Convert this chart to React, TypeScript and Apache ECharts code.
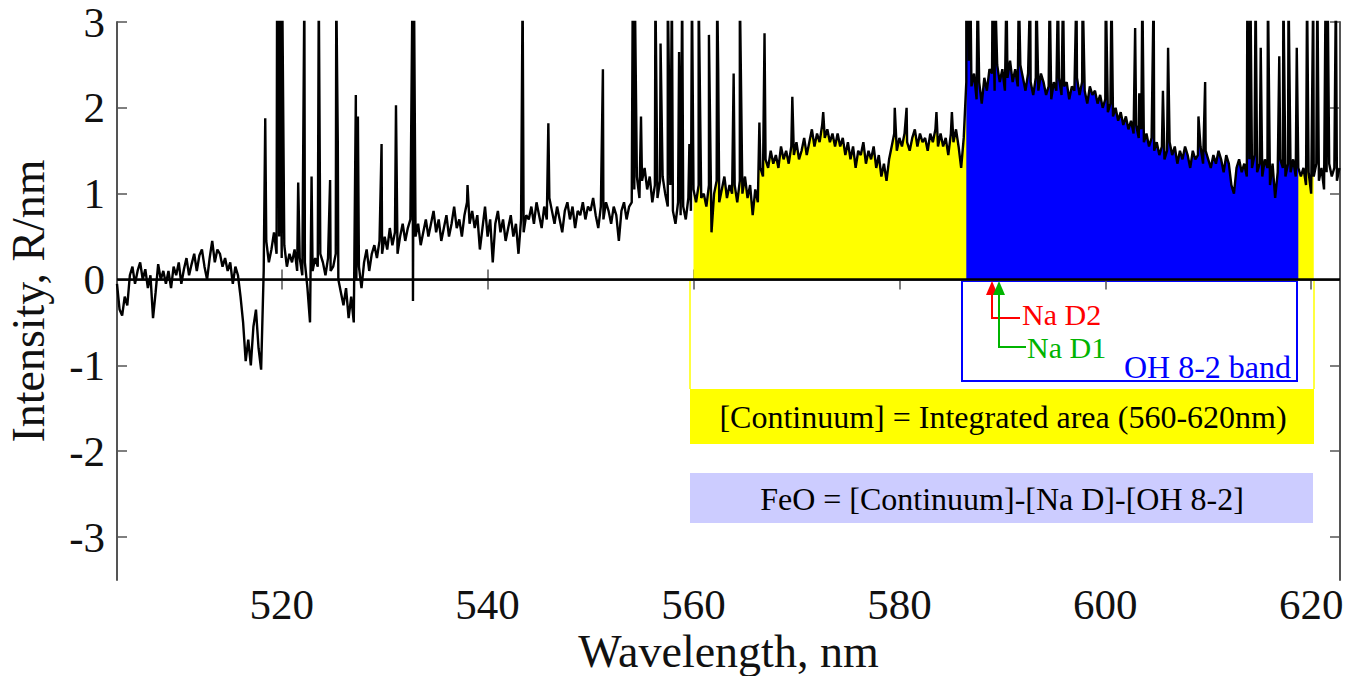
import { useEffect, useRef } from "react";
import * as echarts from "echarts";

// Spectrum sampled every 0.25 nm starting at 504 nm (intensity, R/nm)
const WL_START = 504;
const WL_STEP = 0.25;
const INTENSITY: number[] = [
  // 504.00 - 508.75
  -0.05, -0.35, -0.42, -0.2, -0.3, 0.05, 0.15, -0.05, 0.1, 0.2, 0.0, 0.12, -0.1, 0.05, -0.45, -0.15, 0.18, 0.0, 0.1, -0.05,
  // 509.00 - 513.75
  0.1, -0.1, 0.15, 0.05, 0.2, -0.05, 0.12, 0.25, 0.05, 0.18, 0.3, 0.1, 0.28, 0.35, 0.15, 0.0, 0.25, 0.45, 0.2, 0.35,
  // 514.00 - 518.75
  0.3, 0.15, 0.25, 0.1, 0.2, -0.05, 0.15, 0.05, -0.2, -0.5, -0.95, -0.7, -1.0, -0.55, -0.35, -0.8, -1.05, 0.1, 0.45, 0.2,
  // 519.00 - 523.75
  0.35, 0.55, 0.3, 0.5, 0.25, 0.4, 0.15, 0.3, 0.2, 0.35, 0.1, 0.25, 0.05, 0.2, -0.1, -0.5, 0.1, 0.25, 0.15, 0.3,
  // 524.00 - 528.75
  0.2, 0.05, 0.25, 0.1, 0.15, 0.3, 0.0, -0.15, -0.3, -0.1, -0.45, -0.2, -0.5, 0.0, 0.15, -0.1, 0.2, 0.35, 0.1, 0.3,
  // 529.00 - 533.75
  0.4, 0.25, 0.45, 0.3, 0.5, 0.35, 0.6, 0.4, 0.55, 0.3, 0.5, 0.65, 0.45, 0.6, 0.7, -0.25, 0.5, 0.65, 0.4, 0.55,
  // 534.00 - 538.75
  0.7, 0.5, 0.65, 0.8, 0.55, 0.7, 0.45, 0.6, 0.75, 0.5, 0.65, 0.85, 0.6, 0.7, 0.5, 0.75, 0.9, 0.65, 0.8, 0.6,
  // 539.00 - 543.75
  0.75, 0.35, 0.6, 0.85, 0.5, 0.7, 0.2, 0.65, 0.8, 0.55, 0.7, 0.45, 0.6, 0.75, 0.5, 0.65, 0.3, 0.7, 0.55, 0.75,
  // 544.00 - 548.75
  0.7, 0.85, 0.65, 0.9, 0.75, 0.6, 0.85, 0.7, 0.95, 0.8, 0.65, 0.85, 0.7, 0.55, 0.8, 0.9, 0.7, 0.85, 0.6, 0.8,
  // 549.00 - 553.75
  0.75, 0.9, 0.7, 0.85, 0.8, 0.95, 0.75, 0.6, 0.85, 0.7, 0.9, 0.8, 0.65, 0.85, 0.75, 0.45, 0.8, 0.9, 0.7, 0.85,
  // 554.00 - 558.75
  0.9, 1.05, 1.2, 0.95, 1.15, 1.3, 1.05, 1.2, 0.9, 1.1, 0.95, 1.15, 1.2, 1.0, 0.85, 1.1, 0.8, 0.65, 0.9, 0.75,
  // 559.00 - 563.75
  0.85, 0.7, 0.95, 0.8, 1.05, 0.9, 1.1, 0.95, 1.0, 0.85, 1.1, 0.55, 1.0, 1.15, 0.9, 1.05, 1.2, 0.95, 1.1, 1.0,
  // 564.00 - 568.75
  1.1, 0.9, 1.15, 1.0, 1.2, 0.95, 1.1, 0.75, 1.05, 0.9, 1.3, 1.2, 1.4, 1.3, 1.5, 1.35, 1.45, 1.3, 1.55, 1.4,
  // 569.00 - 573.75
  1.5, 1.35, 1.55, 1.45, 1.6, 1.4, 1.5, 1.65, 1.45, 1.6, 1.75, 1.55, 1.7, 1.6, 1.8, 1.65, 1.75, 1.6, 1.7, 1.55,
  // 574.00 - 578.75
  1.7, 1.55, 1.65, 1.45, 1.6, 1.4, 1.55, 1.3, 1.5, 1.45, 1.6, 1.35, 1.5, 1.4, 1.55, 1.3, 1.45, 1.2, 1.35, 1.15,
  // 579.00 - 583.75
  1.4, 1.55, 1.7, 1.5, 1.65, 1.55, 1.7, 1.6, 1.5, 1.65, 1.75, 1.55, 1.7, 1.6, 1.65, 1.5, 1.7, 1.6, 1.75, 1.55,
  // 584.00 - 588.75
  1.7, 1.55, 1.65, 1.45, 1.7, 1.6, 1.75, 1.55, 1.3, 1.65, 2.3, 2.55, 2.25, 2.4, 2.1, 2.3, 2.05, 2.35, 2.2, 2.45,
  // 589.00 - 593.75
  2.4, 2.2, 2.5, 2.3, 2.45, 2.2, 2.35, 2.55, 2.3, 2.45, 2.25, 2.5, 2.35, 2.2, 2.4, 2.3, 2.15, 2.35, 2.2, 2.4,
  // 594.00 - 598.75
  2.3, 2.15, 2.25, 2.1, 2.3, 2.2, 2.35, 2.15, 2.25, 2.3, 2.1, 2.25, 2.2, 2.35, 2.15, 2.3, 2.2, 2.05, 2.25, 2.15,
  // 599.00 - 603.75
  2.2, 2.05, 2.15, 2.0, 2.1, 1.95, 2.05, 1.9, 2.0, 1.85, 1.95, 1.8, 1.9, 1.75, 1.85, 1.7, 1.8, 1.65, 1.75, 1.6,
  // 604.00 - 608.75
  1.7, 1.55, 1.65, 1.5, 1.6, 1.45, 1.55, 1.4, 1.5, 1.6, 1.45, 1.55, 1.35, 1.5, 1.4, 1.55, 1.45, 1.3, 1.5, 1.4,
  // 609.00 - 613.75
  1.45, 1.55, 1.35, 1.5, 1.4, 1.3, 1.45, 1.35, 1.5, 1.4, 1.25, 1.45, 1.35, 1.1, 1.0, 1.3, 1.4, 1.25, 1.35, 1.2,
  // 614.00 - 618.75
  1.4, 1.3, 1.45, 1.25, 1.35, 1.2, 1.4, 1.3, 1.1, 1.35, 0.95, 1.25, 1.4, 1.3, 1.2, 1.35, 1.25, 1.4, 1.2, 1.3,
  // 619.00 - 622.75
  1.2, 1.3, 1.1, 1.25, 1.0, 1.2, 1.35, 1.15, 1.3, 1.05, 1.25, 1.35, 1.2, 1.3, 1.15, 1.3,
];

// Narrow emission-line spikes [wavelength nm, peak intensity]; 3.4 = off scale
const EMISSION_LINES: [number, number][] = [
  [518.4, 1.88], [519.55, 3.4], [519.7, 3.4], [519.85, 3.4], [520.05, 3.4], [521.6, 1.13],
  [522.2, 3.4], [522.9, 1.2], [523.6, 3.4], [524.7, 1.16], [525.3, 3.4], [525.45, 1.57],
  [527.2, 2.15], [527.4, 1.9], [529.7, 1.58], [531.1, 2.03], [532.7, 3.4], [532.85, 3.4],
  [538.05, 1.1], [543.4, 3.4], [545.9, 1.82], [551.2, 2.45], [554.1, 3.4], [554.3, 3.4],
  [554.9, 1.9], [556.3, 3.4], [556.8, 2.75], [557.5, 3.4], [557.9, 3.4], [558.6, 2.65],
  [558.9, 3.4], [559.6, 1.58], [559.85, 3.4], [560.5, 3.4], [561.5, 2.85], [562.3, 3.4],
  [562.4, 2.44], [563.9, 2.4], [564.5, 3.4], [566.4, 1.83], [566.9, 2.87], [569.6, 2.13],
  [572.6, 1.95], [579.55, 2.0], [580.7, 2.0], [583.6, 1.95], [585.1, 1.95], [586.5, 3.4],
  [586.7, 3.4], [586.9, 3.4], [587.6, 3.4], [589.05, 3.4], [589.3, 3.4], [590.4, 3.4],
  [591.6, 3.4], [592.7, 3.4], [593.3, 3.4], [594.6, 3.4], [595.4, 3.4], [595.9, 3.4],
  [597.2, 3.4], [597.8, 3.4], [600.05, 3.4], [600.6, 3.4], [602.9, 2.93], [603.3, 2.17],
  [603.6, 3.4], [604.7, 3.4], [605.6, 2.2], [606.1, 2.7], [609.05, 1.9], [609.7, 2.3],
  [613.8, 3.4], [614.1, 3.4], [614.6, 3.4], [615.1, 2.7], [615.8, 3.4], [616.9, 2.6],
  [617.3, 3.4], [617.8, 3.4], [618.6, 2.7], [619.6, 3.4], [620.2, 3.4], [620.6, 3.4],
  [621.4, 3.4], [621.6, 3.4], [622.4, 3.4],
];

const X_TICKS = [520, 540, 560, 580, 600, 620];
const Y_TICKS = [-3, -2, -1, 0, 1, 2, 3];
const X_MIN = 504;
const X_MAX = 622.8;
const Y_MIN = -3.5;
const Y_MAX = 3;
const CONTINUUM_RANGE: [number, number] = [560, 620.35];
const OH_BAND_RANGE: [number, number] = [586.3, 618.75];

const SERIF = "'Liberation Serif', 'Times New Roman', serif";

export default function App() {
  const ref = useRef<HTMLDivElement>(null);

  useEffect(() => {
    if (!ref.current) return;
    const chart = echarts.init(ref.current, null, { renderer: "svg" });

    const base = INTENSITY.map((v, i) => [WL_START + i * WL_STEP, v]);
    const all = [...base, ...EMISSION_LINES.map((p) => [p[0], p[1]])].sort(
      (a, b) => a[0] - b[0]
    );
    const within = (r: [number, number]) =>
      all.filter((p) => p[0] >= r[0] && p[0] <= r[1]);

    const frame = { lineStyle: { color: "#555", width: 2 } };
    const tickLabel = {
      fontFamily: SERIF,
      fontSize: 43,
      lineHeight: 30,
      color: "#111",
    };
    const ticks = (values: number[]) => ({
      show: true,
      inside: true,
      length: 10,
      customValues: values,
      lineStyle: { color: "#555", width: 1.5 },
    });

    const label = (
      text: string,
      x: number,
      y: number,
      fill: string,
      align = "center",
      size = 32
    ) => ({
      type: "text",
      x,
      y,
      silent: true,
      style: {
        text,
        fill,
        font: `${size}px ${SERIF}`,
        lineHeight: 24,
        align,
        verticalAlign: "middle",
      },
    });

    chart.setOption({
      animation: false,
      backgroundColor: "#fff",
      grid: {
        left: 117,
        right: 12,
        top: 22,
        bottom: 96,
        containLabel: false,
        outerBoundsMode: "none",
      },
      xAxis: [
        {
          type: "value",
          min: X_MIN,
          max: X_MAX,
          position: "bottom",
          axisLine: { show: true, ...frame },
          axisTick: ticks(X_TICKS),
          axisLabel: { customValues: X_TICKS, margin: 9, ...tickLabel },
          splitLine: { show: false },
          name: "Wavelength, nm",
          nameLocation: "middle",
          nameGap: 55,
          nameMoveOverlap: false,
          nameTextStyle: { fontFamily: SERIF, fontSize: 46, lineHeight: 32, color: "#111" },
        },
        {
          type: "value",
          min: X_MIN,
          max: X_MAX,
          position: "top",
          axisLine: { show: true, ...frame },
          axisTick: ticks(X_TICKS),
          axisLabel: { show: false },
          splitLine: { show: false },
        },
      ],
      yAxis: [
        {
          type: "value",
          min: Y_MIN,
          max: Y_MAX,
          position: "left",
          axisLine: { show: true, ...frame },
          axisTick: ticks(Y_TICKS),
          axisLabel: { customValues: Y_TICKS, margin: 12, ...tickLabel },
          splitLine: { show: false },
          name: "Intensity, R/nm",
          nameLocation: "middle",
          nameGap: 66,
          nameMoveOverlap: false,
          nameTextStyle: { fontFamily: SERIF, fontSize: 46, color: "#111" },
        },
        {
          type: "value",
          min: Y_MIN,
          max: Y_MAX,
          position: "right",
          axisLine: { show: true, ...frame },
          axisTick: ticks(Y_TICKS),
          axisLabel: { show: false },
          splitLine: { show: false },
        },
      ],
      series: [
        {
          name: "Continuum",
          type: "line",
          data: within(CONTINUUM_RANGE),
          showSymbol: false,
          symbol: "none",
          lineStyle: { width: 0, color: "#ffff00" },
          areaStyle: { color: "#ffff00", opacity: 1, origin: 0 },
          silent: true,
        },
        {
          name: "OH 8-2 band",
          type: "line",
          data: within(OH_BAND_RANGE),
          showSymbol: false,
          symbol: "none",
          lineStyle: { width: 0, color: "#0000ff" },
          areaStyle: { color: "#0000ff", opacity: 1, origin: 0 },
          silent: true,
        },
        {
          name: "Spectrum",
          type: "line",
          data: all,
          showSymbol: false,
          symbol: "none",
          lineStyle: { width: 2.4, color: "#000" },
          silent: true,
          markLine: {
            silent: true,
            symbol: "none",
            label: { show: false },
            lineStyle: { color: "#000", width: 2.5, type: "solid" },
            data: [{ yAxis: 0 }],
          },
        },
      ],
      graphic: [
        // yellow outline connecting the continuum region to its label box
        {
          type: "polyline",
          silent: true,
          shape: { points: [[690, 281], [690, 389]] },
          style: { stroke: "#ffff00", lineWidth: 1.5, fill: null },
        },
        {
          type: "polyline",
          silent: true,
          shape: { points: [[1314, 281], [1314, 389]] },
          style: { stroke: "#ffff00", lineWidth: 1.5, fill: null },
        },
        {
          type: "rect",
          silent: true,
          shape: { x: 690, y: 389, width: 624, height: 55 },
          style: { fill: "#ffff00" },
        },
        label("[Continuum] = Integrated area (560-620nm)", 1003, 417, "#000"),
        {
          type: "rect",
          silent: true,
          shape: { x: 690, y: 473, width: 623, height: 50 },
          style: { fill: "#ccccff" },
        },
        label("FeO = [Continuum]-[Na D]-[OH 8-2]", 1002, 499, "#000"),
        // OH band box
        {
          type: "rect",
          silent: true,
          shape: { x: 962, y: 281, width: 335, height: 100 },
          style: { fill: null, stroke: "#0000ff", lineWidth: 2 },
        },
        label("OH 8-2 band", 1291, 367, "#0000ff", "right"),
        // Na D2 arrow (red)
        {
          type: "polyline",
          silent: true,
          shape: { points: [[992, 292], [992, 318], [1020, 318]] },
          style: { stroke: "#ff0000", lineWidth: 2, fill: null },
        },
        {
          type: "polygon",
          silent: true,
          shape: { points: [[986, 295], [998, 295], [992, 281]] },
          style: { fill: "#ff0000" },
        },
        label("Na D2", 1022, 314, "#ff0000", "left", 30),
        // Na D1 arrow (green)
        {
          type: "polyline",
          silent: true,
          shape: { points: [[999, 292], [999, 347], [1026, 347]] },
          style: { stroke: "#00b400", lineWidth: 2, fill: null },
        },
        {
          type: "polygon",
          silent: true,
          shape: { points: [[993, 295], [1005, 295], [999, 281]] },
          style: { fill: "#00b400" },
        },
        label("Na D1", 1027, 347, "#00b400", "left", 30),
      ],
    });

    return () => chart.dispose();
  }, []);

  return (
    <div
      ref={ref}
      style={{ position: "fixed", left: 0, top: 0, width: 1352, height: 676 }}
    />
  );
}
